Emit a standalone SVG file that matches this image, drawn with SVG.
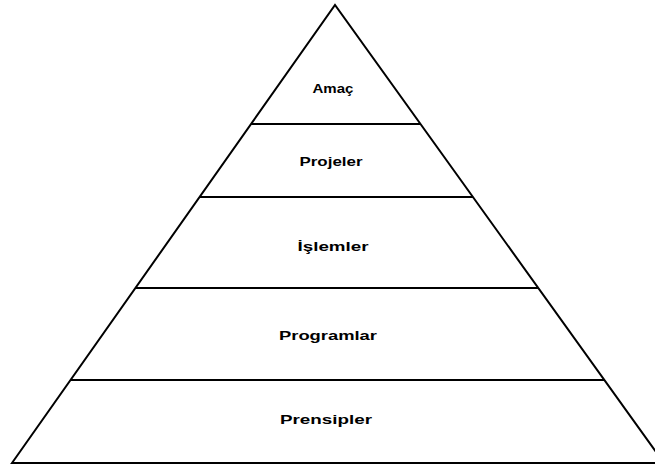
<svg xmlns="http://www.w3.org/2000/svg" width="655" height="466" viewBox="0 0 655 466">
<style>
.ln{stroke:#000;stroke-width:2;fill:none;stroke-linejoin:miter}
.t{font-family:"Liberation Sans",Arial,sans-serif;font-weight:bold;font-size:13px;fill:#000;text-anchor:middle}
</style>
<rect width="655" height="466" fill="#fff"/>
<g id="connectors">
<path class="ln" d="M12,463 L335,5 L664,463 Z"/>
<line class="ln" x1="251" y1="124" x2="421" y2="124"/>
<line class="ln" x1="200" y1="197" x2="473" y2="197"/>
<line class="ln" x1="135" y1="288" x2="538" y2="288"/>
<line class="ln" x1="71" y1="380" x2="605" y2="380"/>
</g>
<g id="amac"><text class="t" x="333" y="93" textLength="41" lengthAdjust="spacingAndGlyphs">Amaç</text></g>
<g id="projeler"><text class="t" x="331" y="166" textLength="63" lengthAdjust="spacingAndGlyphs">Projeler</text></g>
<g id="islemler"><text class="t" x="333" y="251" textLength="71" lengthAdjust="spacingAndGlyphs">İşlemler</text></g>
<g id="programlar"><text class="t" x="328" y="340" textLength="98" lengthAdjust="spacingAndGlyphs">Programlar</text></g>
<g id="prensipler"><text class="t" x="326" y="424" textLength="92" lengthAdjust="spacingAndGlyphs">Prensipler</text></g>
</svg>
